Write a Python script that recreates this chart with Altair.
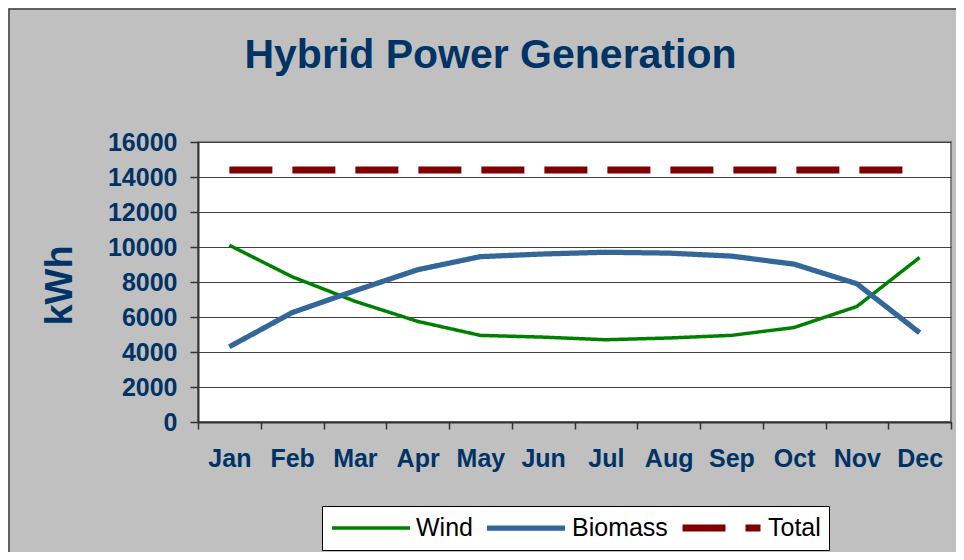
import altair as alt
import pandas as pd

months = ["Jan", "Feb", "Mar", "Apr", "May", "Jun", "Jul", "Aug", "Sep", "Oct", "Nov", "Dec"]
wind = [10100, 8300, 6900, 5750, 4950, 4850, 4700, 4800, 4950, 5400, 6600, 9400]
biomass = [4300, 6250, 7500, 8700, 9450, 9600, 9700, 9650, 9480, 9020, 7900, 5100]
total = [14400] * 12

series = ["Wind", "Biomass", "Total"]
colors = ["#008000", "#336699", "#800000"]
widths = [3.5, 7, 7]
dashes = [[1, 0], [1, 0], [43, 20]]
y_ticks = [0, 2000, 4000, 6000, 8000, 10000, 12000, 14000, 16000]

rows = []
for name, vals in zip(series, [wind, biomass, total]):
    for m, v in zip(months, vals):
        rows.append({"month": m, "series": name, "kwh": v})
df = pd.DataFrame(rows)

FONT = "Liberation Sans"
NAVY = "#003366"

legend = alt.Legend(
    title=None,
    orient="none",
    direction="horizontal",
    legendX=124,
    legendY=364,
    symbolType="stroke",
    symbolSize=6084,
    clipHeight=28,
    labelFont=FONT,
    labelFontSize=25,
    labelColor="black",
    labelOffset=4,
    columnPadding=11,
    fillColor="white",
    strokeColor="black",
    padding=8,
)

lines = (
    alt.Chart(df)
    .mark_line(strokeCap="butt")
    .encode(
        x=alt.X(
            "month:N",
            sort=months,
            bandPosition=0.5,
            scale=alt.Scale(type="band", paddingInner=0, paddingOuter=0),
            axis=alt.Axis(
                title=None,
                labelAngle=0,
                tickBand="extent",
                labelFont=FONT,
                labelFontSize=25,
                labelFontWeight="bold",
                labelColor=NAVY,
                labelPadding=17,
                tickSize=7,
                tickColor="#333333",
                tickWidth=1.5,
                domainColor="#333333",
                domainWidth=2,
                grid=False,
            ),
        ),
        y=alt.Y(
            "kwh:Q",
            scale=alt.Scale(domain=[0, 16000], nice=False),
            axis=alt.Axis(
                values=y_ticks,
                format="d",
                title="kWh",
                titleFont=FONT,
                titleFontSize=38,
                titleFontWeight="bold",
                titleColor=NAVY,
                titleAngle=270,
                titleAlign="center",
                titleBaseline="alphabetic",
                titleX=-127,
                titleY=143,
                labelFont=FONT,
                labelFontSize=25,
                labelFontWeight="bold",
                labelColor=NAVY,
                labelPadding=13,
                tickSize=8,
                tickColor="#333333",
                tickWidth=1.5,
                domainColor="#333333",
                domainWidth=2,
                grid=True,
                gridColor="#404040",
                gridWidth=1,
            ),
        ),
        color=alt.Color("series:N", sort=series, scale=alt.Scale(domain=series, range=colors), legend=legend),
        strokeWidth=alt.StrokeWidth("series:N", sort=series, scale=alt.Scale(domain=series, range=widths), legend=legend),
        strokeDash=alt.StrokeDash("series:N", sort=series, scale=alt.Scale(domain=series, range=dashes), legend=legend),
    )
)

# outer chart-area border (decoration)
border = (
    alt.Chart(pd.DataFrame({"frame": [0]}))
    .mark_rect(fill=None, fillOpacity=0, stroke="#404040", strokeWidth=1.5)
    .encode(
        x=alt.value(-189),
        x2=alt.value(780),
        y=alt.value(-133),
        y2=alt.value(430),
    )
)

chart = (
    alt.layer(lines, border)
    .properties(
        width=753,
        height=280,
        autosize=alt.AutoSizeParams(type="none"),
        padding={"left": 190, "top": 134, "right": 5, "bottom": 130},
        background="#c0c0c0",
        title=alt.TitleParams(
            "Hybrid Power Generation",
            font=FONT,
            fontSize=41,
            fontWeight="bold",
            color=NAVY,
            anchor="middle",
            dx=-84,
            dy=101,
            offset=0,
            baseline="alphabetic",
        ),
    )
    .configure_view(stroke="#808080", strokeWidth=2, fill="white")
)

chart.save("out.html", embed_options={"renderer": "svg", "actions": False})
